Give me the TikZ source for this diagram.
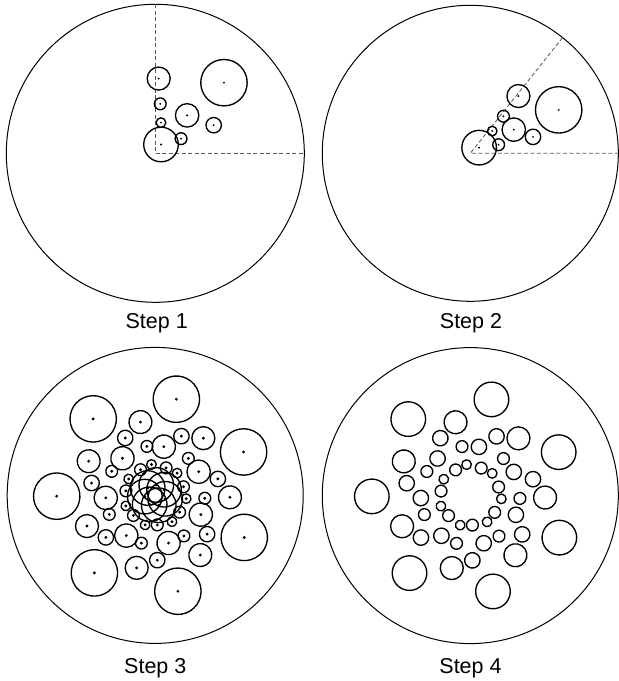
\documentclass[tikz,border=0pt]{standalone}
\usepackage{fontspec}
\setmainfont{Liberation Sans}

\begin{document}
\begin{tikzpicture}[x=1pt,y=1pt,
  rim/.style={line width=1pt},
  hole/.style={line width=1.35pt},
  guide/.style={gray!70!black,line width=0.85pt,dash pattern=on 4pt off 2.5pt},
  pin/.style={circle,fill,inner sep=0pt,minimum size=2.1pt},
  bigpin/.style={circle,fill,inner sep=0pt,minimum size=3.2pt},
  lab/.style={anchor=base,font=\fontsize{21.5}{25}\selectfont}]
\useasboundingbox (0,0) rectangle (619,681);

% Step 1: one quarter
\begin{scope}[shift={(155.3,527.7)}]
\coordinate (o1) at (0,0);
\draw[rim] (o1) circle (149);
\coordinate (t1) at (90:149);
\coordinate (r1) at (0:149);
\draw[guide] (t1) -- (o1) -- (r1);
\draw 	(45.8:98.5) node[pin](a1){}  (87.4:74.8) node[pin](a2){}
		(84.3:49.7) node[pin](a3){}  (50:49.5)   node[pin](a4){}
		(25.7:64.8) node[pin](a5){}  (79.5:31.2) node[pin](a6){}
		(29.6:29.6) node[pin](a7){}  (57:10.5)   node[pin](a8){};
\draw[hole] (a1) circle (23.2);
\draw[hole] (a2) circle (11.5);
\draw[hole] (a3) circle (5.9);
\draw[hole] (a4) circle (11.7);
\draw[hole] (a5) circle (7.7);
\draw[hole] (a6) circle (4.8);
\draw[hole] (a7) circle (5.9);
\draw[hole] (a8) circle (17.3);
\end{scope}
\node[lab] (s1) at (156.7,352.5) {Step 1};

% Step 2: squeezed into 360/7
\begin{scope}[shift={(470.3,527.7)}]
\coordinate (o2) at (0,0);
\draw[rim] (o2) circle (148);
\coordinate (t2) at (360/7:148);
\coordinate (r2) at (0:148);
\draw[guide] (t2) -- (o2) -- (r2);
\draw 	(26.17:98.5) node[pin](b1){}  (49.94:74.8) node[pin](b2){}
		(48.17:49.7) node[pin](b3){}  (28.57:49.5) node[pin](b4){}
		(14.69:64.8) node[pin](b5){}  (45.43:31.2) node[pin](b6){}
		(16.91:29.6) node[pin](b7){}  (32.57:10.5) node[pin](b8){};
\draw[hole] (b1) circle (23.2);
\draw[hole] (b2) circle (11.5);
\draw[hole] (b3) circle (5.9);
\draw[hole] (b4) circle (11.7);
\draw[hole] (b5) circle (7.7);
\draw[hole] (b6) circle (4.8);
\draw[hole] (b7) circle (5.9);
\draw[hole] (b8) circle (17.3);
\end{scope}
\node[lab] (s2) at (471,352.5) {Step 2};

% Step 3: seven copies
\begin{scope}[shift={(155.2,185.6)}]
\coordinate (o3) at (0,0);
\draw[rim] (o3) circle (148);
\foreach \k in {0,...,6}{
\begin{scope}[rotate=\k*360/7]
\draw 	(26.17:98.5) node[bigpin](c\k-1){}  (49.94:74.8) node[bigpin](c\k-2){}
		(48.17:49.7) node[bigpin](c\k-3){}  (28.57:49.5) node[bigpin](c\k-4){}
		(14.69:64.8) node[bigpin](c\k-5){}  (45.43:31.2) node[bigpin](c\k-6){}
		(16.91:29.6) node[bigpin](c\k-7){}  (32.57:10.5) node[bigpin](c\k-8){};
\draw[hole] (c\k-1) circle (23.2);
\draw[hole] (c\k-2) circle (11.5);
\draw[hole] (c\k-3) circle (5.9);
\draw[hole] (c\k-4) circle (11.7);
\draw[hole] (c\k-5) circle (7.7);
\draw[hole] (c\k-6) circle (4.8);
\draw[hole] (c\k-7) circle (5.9);
\draw[hole] (c\k-8) circle (17.3);
\end{scope}
}
\end{scope}
\node[lab] (s3) at (155.3,7.5) {Step 3};

% Step 4: final layout
\begin{scope}[shift={(470.3,185.4)}]
\coordinate (o4) at (0,0);
\draw[rim] (o4) circle (148);
\foreach \k in {0,...,6}{
\begin{scope}[rotate=\k*360/7]
\coordinate (d\k-1) at (26.17:98.5);  \coordinate (d\k-2) at (49.94:74.8);
\coordinate (d\k-3) at (48.17:49.7);  \coordinate (d\k-4) at (28.57:49.5);
\coordinate (d\k-5) at (14.69:64.8);  \coordinate (d\k-6) at (45.43:31.2);
\coordinate (d\k-7) at (16.91:29.6);
\draw[hole] (d\k-1) circle (17.3);
\draw[hole] (d\k-2) circle (11.5);
\draw[hole] (d\k-3) circle (5.9);
\draw[hole] (d\k-4) circle (7.7);
\draw[hole] (d\k-5) circle (7.7);
\draw[hole] (d\k-6) circle (4.8);
\draw[hole] (d\k-7) circle (5.9);
\end{scope}
}
\end{scope}
\node[lab] (s4) at (470.5,7.5) {Step 4};
\end{tikzpicture}
\end{document}
